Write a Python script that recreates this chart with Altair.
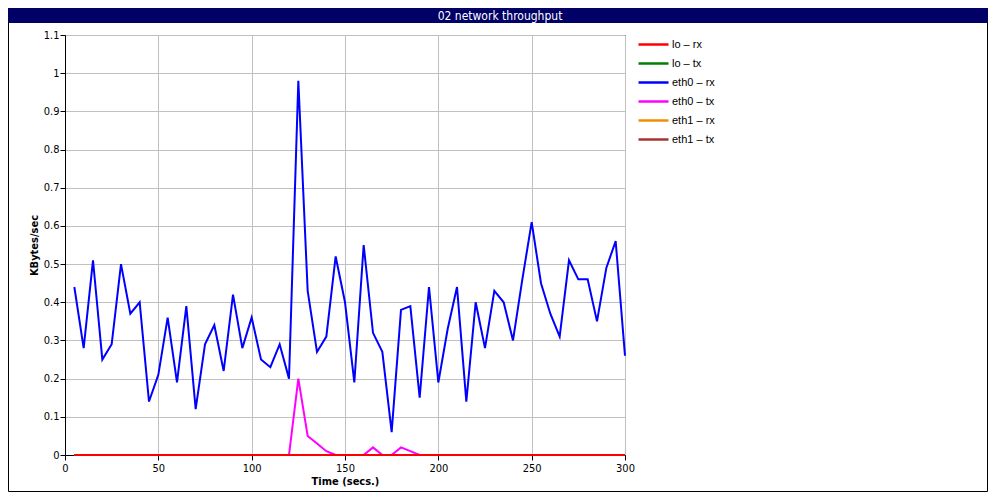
import altair as alt
import pandas as pd

# ---- data ----
time_s = list(range(5, 305, 5))

series_names = ["lo – rx", "lo – tx", "eth0 – rx", "eth0 – tx", "eth1 – rx", "eth1 – tx"]
series_colors = ["#ff0000", "#008000", "#0000ff", "#ff00ff", "#f09000", "#a83232"]

lo_rx = [0, 0, 0, 0, 0, 0, 0, 0, 0, 0, 0, 0, 0, 0, 0, 0, 0, 0, 0, 0,
         0, 0, 0, 0, 0, 0, 0, 0, 0, 0, 0, 0, 0, 0, 0, 0, 0, 0, 0, 0,
         0, 0, 0, 0, 0, 0, 0, 0, 0, 0, 0, 0, 0, 0, 0, 0, 0, 0, 0, 0]
lo_tx = [0, 0, 0, 0, 0, 0, 0, 0, 0, 0, 0, 0, 0, 0, 0, 0, 0, 0, 0, 0,
         0, 0, 0, 0, 0, 0, 0, 0, 0, 0, 0, 0, 0, 0, 0, 0, 0, 0, 0, 0,
         0, 0, 0, 0, 0, 0, 0, 0, 0, 0, 0, 0, 0, 0, 0, 0, 0, 0, 0, 0]
eth0_rx = [0.44, 0.28, 0.51, 0.25, 0.29, 0.50, 0.37, 0.40, 0.14, 0.21,
           0.36, 0.19, 0.39, 0.12, 0.29, 0.34, 0.22, 0.42, 0.28, 0.36,
           0.25, 0.23, 0.29, 0.20, 0.98, 0.43, 0.27, 0.31, 0.52, 0.40,
           0.19, 0.55, 0.32, 0.27, 0.06, 0.38, 0.39, 0.15, 0.44, 0.19,
           0.33, 0.44, 0.14, 0.40, 0.28, 0.43, 0.40, 0.30, 0.46, 0.61,
           0.45, 0.37, 0.31, 0.51, 0.46, 0.46, 0.35, 0.49, 0.56, 0.26]
eth0_tx = [0, 0, 0, 0, 0, 0, 0, 0, 0, 0,
           0, 0, 0, 0, 0, 0, 0, 0, 0, 0,
           0, 0, 0, 0, 0.20, 0.05, 0.03, 0.01, 0, 0,
           0, 0, 0.02, 0, 0, 0.02, 0.01, 0, 0, 0,
           0, 0, 0, 0, 0, 0, 0, 0, 0, 0,
           0, 0, 0, 0, 0, 0, 0, 0, 0, 0]
eth1_rx = [0, 0, 0, 0, 0, 0, 0, 0, 0, 0, 0, 0, 0, 0, 0, 0, 0, 0, 0, 0,
           0, 0, 0, 0, 0, 0, 0, 0, 0, 0, 0, 0, 0, 0, 0, 0, 0, 0, 0, 0,
           0, 0, 0, 0, 0, 0, 0, 0, 0, 0, 0, 0, 0, 0, 0, 0, 0, 0, 0, 0]
eth1_tx = [0, 0, 0, 0, 0, 0, 0, 0, 0, 0, 0, 0, 0, 0, 0, 0, 0, 0, 0, 0,
           0, 0, 0, 0, 0, 0, 0, 0, 0, 0, 0, 0, 0, 0, 0, 0, 0, 0, 0, 0,
           0, 0, 0, 0, 0, 0, 0, 0, 0, 0, 0, 0, 0, 0, 0, 0, 0, 0, 0, 0]

x_ticks = [0, 50, 100, 150, 200, 250, 300]
y_ticks = [0, 0.1, 0.2, 0.3, 0.4, 0.5, 0.6, 0.7, 0.8, 0.9, 1.0, 1.1]
title_text = "02 network throughput"

# long table; reversed so that "lo – rx" is drawn last (on top)
all_series = [lo_rx, lo_tx, eth0_rx, eth0_tx, eth1_rx, eth1_tx]
rows = []
for name, vals in reversed(list(zip(series_names, all_series))):
    for t, v in zip(time_s, vals):
        rows.append({"time": t, "value": v, "series": name})
df = pd.DataFrame(rows)

FONT_N = "Liberation Sans Narrow, DejaVu Sans Condensed, Arial Narrow, sans-serif"
FONT = "Liberation Sans, Arial, sans-serif"

W, H = 560, 420
PAD_L, PAD_T, PAD_R, PAD_B = 57, 27, 363, 37
TOTAL_W = PAD_L + W + PAD_R
TOTAL_H = PAD_T + H + PAD_B

deco = pd.DataFrame({"k": [0]})

border = alt.Chart(deco).mark_rect(fillOpacity=0, stroke="black", strokeWidth=1).encode(
    x=alt.value(-PAD_L + 0.5), x2=alt.value(TOTAL_W - PAD_L - 0.5),
    y=alt.value(-PAD_T + 0.5), y2=alt.value(TOTAL_H - PAD_T - 0.5),
)
title_bar = alt.Chart(deco).mark_rect(color="#000066").encode(
    x=alt.value(-PAD_L), x2=alt.value(TOTAL_W - PAD_L),
    y=alt.value(-PAD_T), y2=alt.value(-PAD_T + 15),
)
title = alt.Chart(deco).mark_text(
    color="white", font=FONT_N, fontSize=12, align="center", baseline="middle"
).encode(
    x=alt.value(TOTAL_W / 2 - PAD_L + 2), y=alt.value(-PAD_T + 7.5),
    text=alt.value(title_text),
)

lines = alt.Chart(df).mark_line(strokeWidth=2).encode(
    x=alt.X("time:Q", scale=alt.Scale(domain=[0, 300], nice=False),
            axis=alt.Axis(values=x_ticks, title="Time (secs.)", labelFlush=False,
                          format="d", titlePadding=2)),
    y=alt.Y("value:Q", scale=alt.Scale(domain=[0, 1.1], nice=False),
            axis=alt.Axis(values=y_ticks, title="KBytes/sec", format="~g",
                          labelPadding=1)),
    color=alt.Color("series:N",
                    scale=alt.Scale(domain=series_names, range=series_colors),
                    legend=alt.Legend(orient="none", legendX=572, legendY=0,
                                      title=None, symbolType="stroke",
                                      symbolSize=900, symbolStrokeWidth=2.5,
                                      labelFont=FONT, labelFontSize=11,
                                      labelColor="black", rowPadding=0,
                                      clipHeight=19,
                                      labelOffset=2, padding=0)),
)

chart = alt.layer(border, title_bar, title, lines).properties(
    width=W, height=H,
    autosize=alt.AutoSizeParams(type="none"),
    padding={"left": PAD_L, "top": PAD_T, "right": PAD_R, "bottom": PAD_B},
    background="white",
).configure_view(
    stroke="black", strokeWidth=1
).configure_axis(
    gridColor="#c0c0c0", gridWidth=1,
    domainColor="black", domainWidth=1,
    tickColor="black", tickSize=5, tickWidth=1,
    labelFont=FONT_N, labelFontSize=11, labelColor="black",
    titleFont=FONT_N, titleFontSize=11, titleFontWeight="bold", titleColor="black",
)

chart.save("out.html", embed_options={"renderer": "svg", "actions": False})
